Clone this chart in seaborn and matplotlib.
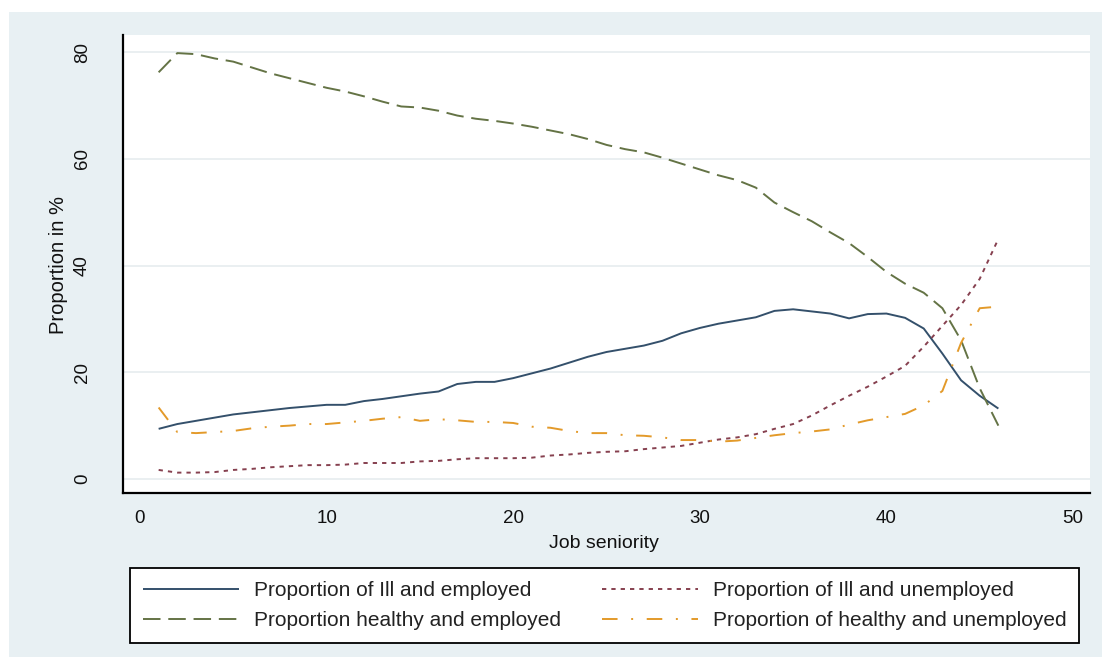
import numpy as np
import pandas as pd
import matplotlib
matplotlib.use("Agg")
import matplotlib.pyplot as plt
from matplotlib.patches import Rectangle
import seaborn as sns

# Job seniority in years
seniority = list(range(1, 47))

ill_employed = [9.4, 10.3, 10.9, 11.5, 12.1, 12.5, 12.9, 13.3, 13.6, 13.9,
                13.9, 14.6, 15.0, 15.5, 16.0, 16.4, 17.8, 18.2, 18.2, 18.9,
                19.8, 20.7, 21.8, 22.9, 23.8, 24.4, 25.0, 25.9, 27.3, 28.3,
                29.1, 29.7, 30.3, 31.5, 31.8, 31.4, 31.0, 30.1, 30.9, 31.0,
                30.2, 28.2, 23.5, 18.5, 15.6, 13.2]

ill_unemployed = [1.7, 1.2, 1.2, 1.3, 1.7, 1.9, 2.2, 2.4, 2.6, 2.6,
                  2.7, 3.0, 3.0, 3.0, 3.3, 3.4, 3.7, 3.9, 3.9, 3.9,
                  4.0, 4.4, 4.6, 4.9, 5.1, 5.2, 5.6, 5.9, 6.2, 6.8,
                  7.4, 7.8, 8.4, 9.4, 10.3, 11.9, 13.8, 15.6, 17.3, 19.2,
                  21.2, 24.8, 28.7, 32.6, 37.5, 45.0]

healthy_employed = [76.2, 79.8, 79.6, 78.8, 78.2, 77.1, 76.0, 75.1, 74.2, 73.3,
                    72.6, 71.7, 70.7, 69.8, 69.6, 69.0, 68.1, 67.5, 67.1, 66.6,
                    66.0, 65.3, 64.6, 63.7, 62.6, 61.8, 61.2, 60.2, 59.1, 58.0,
                    56.9, 56.0, 54.6, 51.8, 50.0, 48.3, 46.2, 44.2, 41.6, 38.8,
                    36.6, 34.9, 32.0, 26.0, 17.0, 10.0]

healthy_unemployed = [13.4, 8.8, 8.6, 8.8, 9.0, 9.5, 9.8, 10.0, 10.3, 10.3,
                      10.6, 10.9, 11.3, 11.6, 10.9, 11.2, 11.0, 10.7, 10.7, 10.5,
                      9.8, 9.6, 9.0, 8.6, 8.6, 8.2, 8.1, 7.8, 7.3, 7.3,
                      7.0, 7.2, 7.7, 8.2, 8.6, 8.9, 9.3, 10.2, 11.0, 11.6,
                      12.2, 13.8, 16.5, 25.5, 32.0, 32.3]

series_labels = ["Proportion of Ill and employed",
                 "Proportion of Ill and unemployed",
                 "Proportion healthy and employed",
                 "Proportion of healthy and unemployed"]

x_ticks = [0, 10, 20, 30, 40, 50]
y_ticks = [0, 20, 40, 60, 80]

df = pd.DataFrame({"seniority": seniority,
                   series_labels[0]: ill_employed,
                   series_labels[1]: ill_unemployed,
                   series_labels[2]: healthy_employed,
                   series_labels[3]: healthy_unemployed})

sns.set_style("white")
plt.rcParams["font.family"] = ["Liberation Sans", "DejaVu Sans"]

W, H = 1112, 668
fig = plt.figure(figsize=(W / 100, H / 100), dpi=100)
fig.patch.set_facecolor("white")

# light graph-region background behind everything
bg = Rectangle((9 / W, 1 - 657 / H), (1102 - 9) / W, (657 - 12) / H,
               transform=fig.transFigure, facecolor="#e8f0f3",
               edgecolor="none", zorder=-10)
fig.patches.append(bg)

ax = fig.add_axes([123 / W, 1 - 493 / H, (1090 - 123) / W, (493 - 35) / H])
ax.set_facecolor("white")

styles = [
    ("#34506b", (0, ())),
    ("#86404f", (0, (2.2, 2.6))),
    ("#647345", (0, (9, 4))),
    ("#e39a2a", (0, (8, 7, 1, 7))),
]
handles = []
for name, (col, ls) in zip(series_labels, styles):
    sns.lineplot(data=df, x="seniority", y=name, ax=ax, color=col,
                 linewidth=1.4, label=name)
    line = ax.get_lines()[-1]
    line.set_linestyle(ls)
    handles.append(line)

ax.set_xlim(-0.91, 50.91)
ax.set_ylim(-2.62, 83.19)
ax.set_xticks(x_ticks)
ax.set_yticks(y_ticks)
ax.set_yticklabels([str(v) for v in y_ticks], rotation=90, va="center")
ax.tick_params(axis="both", direction="out", length=5, width=1.3,
               color="black", labelsize=13.5, labelcolor="#111111")
ax.tick_params(axis="x", pad=7)
ax.tick_params(axis="y", pad=18)
ax.yaxis.grid(True, color="#e4ebee", linewidth=1.1)
ax.xaxis.grid(False)
for side in ["top", "right"]:
    ax.spines[side].set_visible(False)
for side in ["left", "bottom"]:
    ax.spines[side].set_color("black")
    ax.spines[side].set_linewidth(1.6)

ax.set_xlabel("")
ax.set_ylabel("")
fig.text(604 / W, 1 - 543 / H, "Job seniority", fontsize=14, color="#111111",
         ha="center", va="center")
fig.text(59 / W, 1 - 265 / H, "Proportion in %", fontsize=14.5, color="#111111",
         ha="center", va="center", rotation=90)

if ax.get_legend() is not None:
    ax.get_legend().remove()

order = [0, 2, 1, 3]
leg = fig.legend([handles[i] for i in order], [series_labels[i] for i in order],
                 loc="upper left", bbox_to_anchor=(130 / W, 1 - 568 / H),
                 bbox_transform=fig.transFigure, ncol=2,
                 fontsize=15, handlelength=4.6, handletextpad=0.72,
                 columnspacing=1.97, borderaxespad=0, borderpad=0.62,
                 labelspacing=0.55, frameon=True, fancybox=False)
for t in leg.get_texts():
    t.set_color("#222222")
leg.get_frame().set_edgecolor("black")
leg.get_frame().set_linewidth(1.3)
leg.get_frame().set_facecolor("white")
leg.get_frame().set_alpha(1)

fig.savefig("out.png", dpi=100, facecolor=fig.get_facecolor())
